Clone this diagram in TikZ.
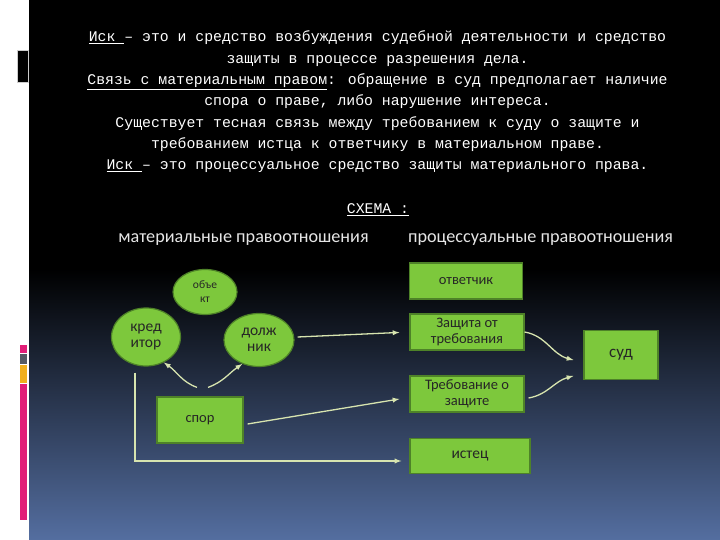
\documentclass[tikz,border=0pt]{standalone}
\usepackage{fontspec}
\setmainfont{Carlito}
\newfontfamily\cons{Liberation Mono}
\usetikzlibrary{shapes.geometric}
\definecolor{leaf}{RGB}{125,200,60}
\definecolor{leafdark}{RGB}{78,130,40}
\definecolor{wire}{RGB}{215,228,175}
\definecolor{bgblue}{RGB}{84,110,160}
\definecolor{barpink}{RGB}{225,30,120}
\definecolor{bargray}{RGB}{85,90,100}
\definecolor{baryel}{RGB}{240,175,30}

\begin{document}
\begin{tikzpicture}[x=1pt,y=1pt,
  ov/.style={ellipse,draw=leafdark,fill=leaf,line width=1.2pt,inner sep=0pt,text=black!85,align=center,font=\fontsize{15.5}{16}\selectfont},
  bx/.style={rectangle,draw=leafdark,fill=leaf,line width=1.2pt,inner sep=0pt,text=black!85,align=center,font=\fontsize{14.5}{16}\selectfont},
  wr/.style={draw=wire,line width=1.3pt,-latex}]
  \useasboundingbox (0,0) rectangle (720,540);
  \fill[white] (0,0) rectangle (720,540);
  \fill[black] (29,270) rectangle (720,540);
  \shade[top color=black,bottom color=bgblue] (29,0) rectangle (720,271);
  \fill[black,draw=black!20] (17,458) rectangle (28,490);
  \fill[barpink] (20,187) rectangle (27,195);
  \fill[bargray] (20,176) rectangle (27,186);
  \fill[baryel] (20,157) rectangle (27,175);
  \fill[barpink] (20,20) rectangle (27,156);

  \node[text=white,align=center,font=\cons\fontsize{14.8}{21.3}\selectfont] (intro) at (377.5,438)
    {\underline{Иск\ }– это и средство возбуждения судебной деятельности и средство\\
     защиты в процессе разрешения дела.\\
     \underline{Связь с материальным правом}: обращение в суд предполагает наличие\\
     спора о праве, либо нарушение интереса.\\
     Существует тесная связь между требованием к суду о защите и\\
     требованием истца к ответчику в материальном праве.\\
     \underline{Иск\ }– это процессуальное средство защиты материального права.};
  \node[text=white,font=\cons\fontsize{14.8}{17}\selectfont] (schema) at (378,330) {\underline{СХЕМА :}};
  \node[text=white!90!black,font=\fontsize{18.2}{20}\selectfont] (mat) at (243.5,300) {материальные правоотношения};
  \node[text=white!90!black,font=\fontsize{18.2}{20}\selectfont] (proc) at (540.5,300) {процессуальные правоотношения};

  \node[ov,minimum width=64,minimum height=45,font=\fontsize{11.5}{14}\selectfont] (obj) at (205,248) {объе\\кт};
  \node[ov,minimum width=69,minimum height=58] (kred) at (146,203) {кред\\итор};
  \node[ov,minimum width=70,minimum height=53] (dolzh) at (259,200) {долж\\ник};
  \node[bx,minimum width=86,minimum height=46] (spor) at (200,120) {спор};
  \node[bx,minimum width=113,minimum height=36] (otv) at (466,259) {ответчик};
  \node[bx,minimum width=114,minimum height=36] (zash) at (467,208) {Защита от\\требования};
  \node[bx,minimum width=114,minimum height=36] (treb) at (467,146) {Требование о\\защите};
  \node[bx,minimum width=120,minimum height=35,font=\fontsize{15.5}{17}\selectfont] (istec) at (470,84) {истец};
  \node[bx,minimum width=74,minimum height=49,font=\fontsize{17}{19}\selectfont] (sud) at (621,185) {суд};

  \draw[wr,shorten >=10pt] ([xshift=3pt,yshift=3pt]dolzh.east) -- (zash.west);
  \draw[wr] ([xshift=4pt,yshift=-4pt]spor.east) -- ([xshift=-10pt,yshift=-5pt]treb.west);
  \draw[wr] ([xshift=-11pt,yshift=-6pt]kred.south) |- ([xshift=-8pt,yshift=-5pt]istec.west);
  \draw[wr] ([xshift=-3pt,yshift=9pt]spor.north) to[out=160,in=-35] (kred.-55);
  \draw[wr] ([xshift=8pt,yshift=9pt]spor.north) to[out=20,in=-145] (dolzh.-125);
  \draw[wr] (zash.east) to[out=-10,in=165] ([xshift=-10pt,yshift=-5pt]sud.west);
  \draw[wr] ([xshift=4pt,yshift=-4pt]treb.east) to[out=10,in=195] ([xshift=-10pt,yshift=-21pt]sud.west);
\end{tikzpicture}
\end{document}
